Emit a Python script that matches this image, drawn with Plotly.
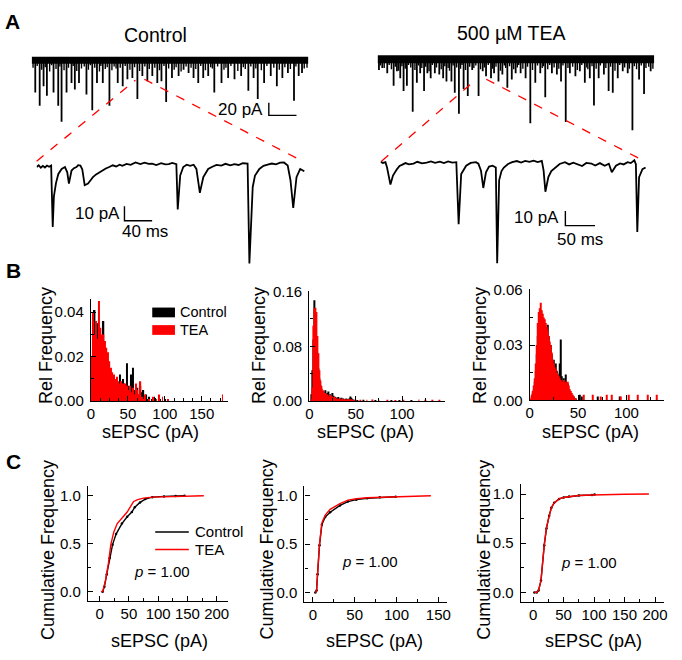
import plotly.graph_objects as go

W, H = 682, 660
FONT = "Liberation Sans, Arial, sans-serif"

# ---------------- Panel A data ----------------
# overview traces: event times (s) and amplitudes (pA)
ctl_t = [0.13,0.29,0.43,0.55,0.79,0.96,1.08,1.26,1.44,1.56,1.71,1.98,2.19,2.36,2.57,2.81,3.11,3.29,3.46,3.64,
         3.82,4.0,4.18,4.36,4.54,4.69,4.86,5.07,5.31,5.49,5.67,5.85,6.02,6.20,6.38,6.6,6.86,7.1,7.33,7.57,
         7.83,8.02,8.17,8.40,8.64,8.86,9.06,9.26,9.48,9.65,9.77]
ctl_a = [51,72,41,56,51,72,97,51,36,46,36,54,79,36,36,72,36,41,30,28,
         61,25,33,25,36,33,66,28,25,15,20,28,36,28,25,51,36,28,30,25,
         48,28,61,36,25,41,28,20,64,25,20]
ctl_small_t = [0.05,0.2,0.36,0.49,0.65,0.72,0.88,1.02,1.17,1.33,1.50,1.63,1.80,1.90,2.05,2.12,2.28,2.45,2.50,2.66,
               2.73,2.90,2.98,3.05,3.20,3.38,3.55,3.72,3.90,4.09,4.25,4.45,4.62,4.78,4.95,5.15,5.22,5.40,5.58,5.76,
               5.93,6.11,6.28,6.47,6.53,6.72,6.95,7.02,7.20,7.45,7.65,7.72,7.92,8.10,8.30,8.50,8.75,8.95,9.15,9.35,
               9.55,9.85,9.95]
ctl_small_a = [12,9,15,11,18,8,14,10,16,12,9,17,13,10,15,8,12,18,9,14,
               11,16,10,13,12,9,15,11,17,10,14,12,16,9,13,15,11,18,10,12,
               14,9,16,11,13,10,15,12,9,17,11,14,10,13,16,9,12,15,11,14,
               10,13,12]
tea_t = [0.05,0.17,0.35,0.58,0.70,0.82,0.94,1.06,1.27,1.42,1.54,1.68,1.80,1.92,2.07,2.23,2.37,2.49,2.67,2.79,
         2.94,3.11,3.26,3.42,3.65,3.80,3.92,4.10,4.21,4.37,4.51,4.69,4.85,4.99,5.17,5.35,5.52,5.70,5.88,6.06,
         6.30,6.48,6.63,6.80,6.95,7.15,7.31,7.49,7.67,7.82,7.99,8.18,8.35,8.50,8.68,8.86,9.04,9.21,9.45,9.63,9.87]
tea_a = [17,14,22,42,19,30,50,42,83,37,22,50,22,30,22,24,30,35,35,53,
         86,47,58,17,58,19,27,30,22,35,24,45,32,22,22,30,101,37,22,60,
         22,24,35,99,22,27,19,37,30,73,30,24,50,53,30,19,22,112,32,55,19]
tea_small_t = [0.1,0.24,0.42,0.5,0.64,0.76,0.88,1.0,1.12,1.2,1.35,1.48,1.6,1.74,1.86,1.98,2.13,2.3,2.43,2.55,
               2.6,2.73,2.86,3.0,3.05,3.18,3.33,3.48,3.55,3.72,3.86,4.0,4.16,4.28,4.44,4.58,4.63,4.77,4.92,5.05,
               5.1,5.25,5.42,5.6,5.78,5.95,6.0,6.15,6.22,6.38,6.55,6.7,6.88,7.05,7.22,7.38,7.56,7.6,7.75,7.9,
               8.05,8.25,8.42,8.58,8.75,8.93,9.1,9.28,9.36,9.53,9.7,9.8,9.95]
tea_small_a = [10,14,9,16,12,18,11,15,9,13,17,10,14,12,19,9,13,16,11,14,
               18,10,13,15,9,17,12,14,10,16,13,9,15,12,18,10,14,11,16,13,
               9,15,12,17,10,14,11,16,9,13,15,10,14,12,17,9,13,16,11,15,
               10,14,12,18,9,13,15,11,16,10,14,12,15]

# zoomed traces: (time ms, current pA)
ctl_zoom = [(0,0),(3,1.2),(6,-0.5),(9,0.8),(12,-0.3),(15,1.0),(18,0.2),(21,1.0),(23.3,-41),(25,-20),(28,-11),
            (31.4,-4.7),(36.2,-1.3),(41,0),(44.3,-3.6),(46.7,-11.3),(50.5,-2.4),(54,-0.8),(57.6,0),(60,1.3),
            (63.3,1),(66,-1.5),(69.5,-12.4),(74.3,-11.3),(78,-9),(81.4,-6.9),(86,-5),(91,-3.6),(95,-2),(100,-1),
            (105,0),(110,1.2),(115,0.4),(120,1.6),(124,0.8),(130,2.2),(136,1.5),(143,3.1),(150,2.0),(156,3.0),
            (162,2.2),(167,2.4),(173,1.4),(180,2.6),(186,1.8),(191,2.0),(196,2.8),(202,2.0),(204,-29),(207.6,-5.8),
            (212,0),(217,1.6),(222,0.8),(227,1.6),(231,-1.3),(236,-17.6),(241,-6.9),(248,-1.3),(254,0.2),(260,1.5),
            (267,1.0),(273,2.2),(280,1.2),(286,2.0),(292,1.4),(298,2.6),(305,2.4),(307.6,-65.8),(312.4,-13.6),
            (315.7,-5.8),(322,-1.3),(328,0.8),(334,1.6),(340,2.4),(346,1.8),(352,3.0),(357.6,3.1),(363,1.0),
            (367,-9),(371,-28),(375.7,-6.9),(381,-1.3),(387,-2.9)]
tea_zoom = [(0,0.4),(4,-0.5),(8.3,0),(11,-3.6),(16.7,-15.3),(21,-9.1),(27.8,-4.7),(32,-2.5),(36,-1.8),(42,-0.6),
            (48,-1.5),(55.6,-0.9),(62,0.3),(70,-0.8),(77.8,-0.2),(85,0.6),(92,-0.4),(100,0.4),(107,-0.6),(114,0.5),
            (121,-0.3),(127.8,0),(131.7,-42.4),(136,-8),(144.4,-2.4),(152,-0.5),(161,0),(165,-1),(169.4,-5.8),
            (173.3,-17.6),(177.8,-6.9),(183,-3),(189,-2.4),(194.4,-3.6),(196.7,-69),(200,-12.4),(204,-6),(208,-3.6),
            (215,-1.2),(222,0),(230,0.8),(237,-0.2),(244,0.9),(251,0.2),(258,1.0),(265,0.1),(272,0.9),(275,-5.8),
            (278,-20.2),(283,-10.2),(288,-6),(294.4,-3.6),(302,-1.2),(311,0),(318,-1.5),(325,-0.3),(333,-1.3),
            (340,-2.6),(347,-0.5),(355.6,-0.9),(362,-2.2),(370,-0.6),(378,-2.4),(385,-1.0),(390,-6.9),(397,-2.4),
            (404,-0.8),(410,-1.5),(416.7,0),(422,-0.6),(428,1.3),(430.6,-1.3),(433,-47.6),(436,-10.2),(441.7,-4.7),
            (447,-3.6)]

# scale bars
ov_bar_pA, ov_bar_s = 20, 1
ctl_zoom_bar_pA, ctl_zoom_bar_ms = 10, 40
tea_zoom_bar_pA, tea_zoom_bar_ms = 10, 50

# ---------------- Panel B data (relative frequency histograms) ----------------
b1_bin = 2.0
b1_ctl = [0.004,0.028,0.041,0.022,0.035,0.020,0.026,0.022,0.036,0.020,0.018,0.016,0.012,0.010,0.009,0.011,
          0.008,0.007,0.008,0.012,0.006,0.010,0.008,0.005,0.017,0.007,0.006,0.012,0.015,0.005,0.004,0.006,
          0.003,0.007,0.004,0.005,0.002,0.003,0.001,0.002]
b1_tea = [0.020,0.040,0.030,0.036,0.028,0.045,0.033,0.030,0.030,0.027,0.024,0.022,0.018,0.015,0.013,0.012,
          0.010,0.011,0.009,0.008,0.009,0.008,0.006,0.008,0.007,0.005,0.007,0.004,0.006,0.003,0.008,0.005,
          0.003,0.009,0.002,0.001,0.003,0.001,0.000,0.001]
b1_ctl_tail_x = [82, 86, 94, 101]
b1_ctl_tail_y = [0.001, 0.002, 0.001, 0.001]
b1_tea_tail_x = [84, 88, 92, 97, 104, 178]
b1_tea_tail_y = [0.002, 0.001, 0.003, 0.002, 0.001, 0.003]

b2_bin = 1.0
b2_ctl = [0,0,0.010,0.045,0.090,0.147,0.120,0.095,0.070,0.048,0.033,0.024,0.018,0.015,0.012,0.014,0.010,0.016,
          0.008,0.012,0.014,0.007,0.010,0.006,0.012,0.008,0.005,0.007,0.006,0.004,0.005,0.006,0.003,0.004,0.005,
          0.003,0.004,0.002,0.003,0.004,0.002,0.003,0.002,0.004,0.007,0.005,0.003,0.002,0.001,0.002]
b2_tea = [0,0,0.003,0.020,0.110,0.135,0.136,0.130,0.095,0.070,0.045,0.030,0.022,0.018,0.013,0.016,0.011,0.012,
          0.009,0.010,0.008,0.007,0.009,0.006,0.007,0.005,0.006,0.004,0.005,0.004,0.003,0.004,0.003,0.002,0.003,
          0.004,0.002,0.003,0.002,0.002,0.003,0.001,0.002,0.003,0.002,0.003,0.001,0.002,0.001,0.001]
b2_ctl_tail_x = [52, 58, 71, 88, 97, 110]
b2_ctl_tail_y = [0.0015, 0.002, 0.0015, 0.001, 0.0015, 0.001]
b2_tea_tail_x = [55, 62, 68, 75, 84, 93, 101, 118, 125, 133, 140]
b2_tea_tail_y = [0.002, 0.002, 0.0025, 0.002, 0.002, 0.0015, 0.002, 0.0025, 0.002, 0.002, 0.002]

b3_bin = 1.0
b3_ctl = [0,0,0.002,0.004,0.006,0.010,0.016,0.025,0.035,0.040,0.045,0.046,0.040,0.038,0.036,0.035,0.037,0.033,
          0.041,0.035,0.028,0.030,0.025,0.020,0.022,0.018,0.020,0.016,0.014,0.012,0.015,0.020,0.033,0.013,0.010,
          0.012,0.008,0.014,0.007,0.009,0.006,0.005,0.004,0.003,0.002,0.002,0.001,0.001]
b3_tea = [0,0.001,0.003,0.005,0.008,0.012,0.020,0.030,0.042,0.048,0.050,0.053,0.049,0.047,0.045,0.044,0.042,0.040,
          0.038,0.035,0.032,0.030,0.026,0.022,0.020,0.018,0.017,0.015,0.014,0.013,0.012,0.012,0.011,0.010,0.010,
          0.011,0.009,0.010,0.009,0.010,0.008,0.006,0.005,0.004,0.003,0.002,0.001,0.001]
b3_ctl_tail_x = [52, 54, 70, 93]
b3_ctl_tail_y = [0.003, 0.002, 0.002, 0.002]
b3_tea_tail_x = [56, 65, 73, 80, 85, 94, 102, 112, 122, 131]
b3_tea_tail_y = [0.003, 0.003, 0.002, 0.003, 0.003, 0.002, 0.003, 0.003, 0.003, 0.003]

# ---------------- Panel C data (cumulative frequency) ----------------
c1_ctl_x = [5, 8, 12, 17, 22, 28, 38, 47, 55, 60, 69, 78, 90, 110, 130, 145]
c1_ctl_y = [0, 0.05, 0.18, 0.35, 0.49, 0.60, 0.71, 0.78, 0.83, 0.88, 0.93, 0.965, 0.985, 0.993, 0.997, 1.0]
c1_tea_x = [2, 5, 10, 15, 19, 24, 30, 38, 47, 55, 58, 65, 75, 90, 110, 130, 150, 178]
c1_tea_y = [0, 0, 0.12, 0.30, 0.49, 0.62, 0.71, 0.77, 0.83, 0.91, 0.94, 0.96, 0.975, 0.985, 0.99, 0.995, 0.997, 1.0]
c2_ctl_x = [3, 4.5, 5.7, 8, 10.8, 14.8, 20.7, 32.5, 42, 52, 65, 80, 99]
c2_ctl_y = [0, 0.02, 0.19, 0.49, 0.70, 0.78, 0.83, 0.90, 0.94, 0.96, 0.975, 0.985, 0.99]
c2_tea_x = [3, 4.5, 5.7, 8, 10.8, 14.8, 20.7, 32.5, 42, 52, 65, 80, 99, 120, 141]
c2_tea_y = [0, 0.02, 0.20, 0.50, 0.72, 0.80, 0.86, 0.92, 0.955, 0.97, 0.98, 0.985, 0.99, 0.995, 1.0]
c3_ctl_x = [2.2, 6, 9, 13, 18.4, 22, 26.5, 30, 34.6, 42.7, 50, 59, 75, 96.7, 101]
c3_ctl_y = [0, 0, 0.02, 0.12, 0.48, 0.65, 0.78, 0.86, 0.91, 0.95, 0.965, 0.975, 0.985, 0.99, 0.995]
c3_tea_x = [2.2, 6, 9, 13, 18.4, 22, 26.5, 30, 34.6, 42.7, 50, 59, 75, 96.7, 120, 150, 190]
c3_tea_y = [0, 0, 0.02, 0.12, 0.49, 0.66, 0.78, 0.86, 0.91, 0.95, 0.965, 0.975, 0.985, 0.99, 0.995, 0.998, 1.0]
p_values = ["1.00", "1.00", "1.00"]

BLACK = "#000000"
RED = "#ff0000"

# ---------------- helpers ----------------
def fx(p):
    return p / W

def fy(p):
    return 1 - p / H

def xdom(a, b):
    return [fx(a), fx(b)]

def ydom(top, bottom):
    return [fy(bottom), fy(top)]

def spikes(ts, amps):
    xs, ys = [], []
    for t, a in zip(ts, amps):
        xs += [t, t, None]
        ys += [0, -a, None]
    return xs, ys

fig = go.Figure()
layout_axes = {}

def hidden_axes(n, xd, xr, yd, yr):
    sx = "" if n == 1 else str(n)
    layout_axes["xaxis" + sx] = dict(domain=xd, range=xr, visible=False, anchor="y" + sx)
    layout_axes["yaxis" + sx] = dict(domain=yd, range=yr, visible=False, anchor="x" + sx)

def sci_axes(n, xd, xr, xdt, xminor, yd, yr, ydt, yminor, yfmt):
    tf = dict(family=FONT, size=15, color="black")
    layout_axes["xaxis%d" % n] = dict(domain=xd, range=xr, anchor="y%d" % n, showline=True, linecolor="black",
                                     linewidth=1.3, ticks="inside", ticklen=5, tickwidth=1.2, tickcolor="black",
                                     tick0=0, dtick=xdt, showgrid=False, zeroline=False, tickfont=tf,
                                     ticklabelstandoff=-1,
                                     minor=dict(dtick=xminor, tick0=0, ticks="inside", ticklen=3, tickcolor="black", showgrid=False))
    layout_axes["yaxis%d" % n] = dict(domain=yd, range=yr, anchor="x%d" % n, showline=True, linecolor="black",
                                     linewidth=1.3, ticks="inside", ticklen=5, tickwidth=1.2, tickcolor="black",
                                     tick0=0, dtick=ydt, showgrid=False, zeroline=False, tickfont=tf,
                                     tickformat=yfmt, ticklabelstandoff=3,
                                     minor=dict(dtick=yminor, tick0=0, ticks="inside", ticklen=3, tickcolor="black", showgrid=False))

# ---------------- Panel A ----------------
hidden_axes(1, xdom(28, 308), [0, 10], ydom(47, 125), [-110, 10])
hidden_axes(2, xdom(378, 658), [0, 10], ydom(46, 130.5), [-120, 10])
hidden_axes(3, xdom(33, 305), [0, 388.6], ydom(151, 271), [-72, 8])
hidden_axes(4, xdom(381, 650), [0, 448.3], ydom(148, 271), [-75.3, 6.7])

for n, (tt, aa, st, sa, band) in zip([1, 2], [(ctl_t, ctl_a, ctl_small_t, ctl_small_a, 7),
                                           (tea_t, tea_a, tea_small_t, tea_small_a, 8)]):
    xa = "x" if n == 1 else "x%d" % n
    ya = "y" if n == 1 else "y%d" % n
    fig.add_trace(go.Scatter(x=[0, 10], y=[0, 0], mode="lines", line=dict(color=BLACK, width=band),
                             xaxis=xa, yaxis=ya, showlegend=False, hoverinfo="skip"))
    sx, sy = spikes(st, sa)
    fig.add_trace(go.Scatter(x=sx, y=sy, mode="lines", line=dict(color=BLACK, width=1.4),
                             xaxis=xa, yaxis=ya, showlegend=False, hoverinfo="skip"))
    sx, sy = spikes(tt, aa)
    fig.add_trace(go.Scatter(x=sx, y=sy, mode="lines", line=dict(color=BLACK, width=1.8),
                             xaxis=xa, yaxis=ya, showlegend=False, hoverinfo="skip"))

for n, data in zip([3, 4], [ctl_zoom, tea_zoom]):
    fig.add_trace(go.Scatter(x=[d[0] for d in data], y=[d[1] for d in data], mode="lines",
                             line=dict(color=BLACK, width=1.8), xaxis="x%d" % n, yaxis="y%d" % n,
                             showlegend=False, hoverinfo="skip"))

# scale bars
def scalebar(xa, ya, x0, y0, dx, dy):
    fig.add_trace(go.Scatter(x=[x0, x0, x0 + dx], y=[y0 + dy, y0, y0], mode="lines",
                             line=dict(color=BLACK, width=1.4), xaxis=xa, yaxis=ya,
                             showlegend=False, hoverinfo="skip"))

scalebar("x", "y", 8.57, -87, ov_bar_s, ov_bar_pA)
scalebar("x3", "y3", 127, -36.7, ctl_zoom_bar_ms, ctl_zoom_bar_pA)
scalebar("x4", "y4", 311.7, -43.3, tea_zoom_bar_ms, tea_zoom_bar_pA)

annotations = []
def txt(text, x, y, size, xref="paper", yref="paper", xanchor="center", yanchor="middle", bold=False, textangle=0):
    annotations.append(dict(text=("<b>%s</b>" % text) if bold else text, x=x, y=y, xref=xref, yref=yref,
                            xanchor=xanchor, yanchor=yanchor, showarrow=False, textangle=textangle,
                            font=dict(family=FONT, size=size, color="black")))

txt("A", fx(9), fy(14), 21, bold=True)
txt("B", fx(10), fy(269), 21, bold=True)
txt("C", fx(10), fy(465), 21, bold=True)
txt("Control", fx(153), fy(28), 19.5)
txt("500 µM TEA", fx(513), fy(26), 19.5)
txt("%d pA" % ov_bar_pA, 8.45, -77, 17, xref="x", yref="y", xanchor="right")
txt("%d s" % ov_bar_s, 9.07, -113, 17, xref="x", yref="y")
txt("%d pA" % ctl_zoom_bar_pA, 123, -31.7, 17, xref="x3", yref="y3", xanchor="right")
txt("%d ms" % ctl_zoom_bar_ms, 157, -44, 17, xref="x3", yref="y3")
txt("%d pA" % tea_zoom_bar_pA, 305, -38, 17, xref="x4", yref="y4", xanchor="right")
txt("%d ms" % tea_zoom_bar_ms, 337, -52.7, 17, xref="x4", yref="y4")

shapes = []
for (x0, y0, x1, y1) in [(33, 157, 133, 74), (142, 73, 302, 157), (382, 157, 478, 73), (488, 73, 648, 157)]:
    shapes.append(dict(type="line", xref="paper", yref="paper", x0=fx(x0), y0=fy(y0), x1=fx(x1), y1=fy(y1),
                       line=dict(color=RED, width=1.3, dash="dash")))

# ---------------- Panel B ----------------
sci_axes(5, xdom(88, 227), [0, 186], 50, 12.5, ydom(298, 403), [0, 0.046], 0.02, 0.01, ".2f")
sci_axes(6, xdom(309, 446), [0, 146], 50, 25, ydom(290, 403), [0, 0.1605], 0.08, 0.04, ".2f")
sci_axes(7, xdom(532, 668), [0, 139], 50, 25, ydom(288, 402), [0, 0.0605], 0.03, 0.015, ".2f")

def hist(n, bw, ctl, tea, ctx, cty, ttx, tty):
    for vals, tx, ty, col in [(ctl, ctx, cty, BLACK), (tea, ttx, tty, RED)]:
        centers = [bw * (i + 0.5) for i in range(len(vals))]
        fig.add_trace(go.Bar(x=centers, y=vals, width=bw, marker=dict(color=col, line=dict(width=0)),
                             xaxis="x%d" % n, yaxis="y%d" % n, showlegend=False, hoverinfo="skip"))
        fig.add_trace(go.Bar(x=tx, y=ty, width=0.9, marker=dict(color=col, line=dict(width=0)),
                             xaxis="x%d" % n, yaxis="y%d" % n, showlegend=False, hoverinfo="skip"))

hist(5, b1_bin, b1_ctl, b1_tea, b1_ctl_tail_x, b1_ctl_tail_y, b1_tea_tail_x, b1_tea_tail_y)
hist(6, b2_bin, b2_ctl, b2_tea, b2_ctl_tail_x, b2_ctl_tail_y, b2_tea_tail_x, b2_tea_tail_y)
hist(7, b3_bin, b3_ctl, b3_tea, b3_ctl_tail_x, b3_ctl_tail_y, b3_tea_tail_x, b3_tea_tail_y)

for xc in [42, 257.5, 481]:
    txt("Rel Frequency", fx(xc), fy(346), 18, textangle=-90)
for xc in [148, 366, 593]:
    txt("sEPSC (pA)", fx(xc), fy(435), 18)

# B1 legend (boxes)
for yc, col, lab in [(312, BLACK, "Control"), (330, RED, "TEA")]:
    shapes.append(dict(type="rect", xref="paper", yref="paper", x0=fx(150), x1=fx(173), y0=fy(yc + 5), y1=fy(yc - 5),
                       fillcolor=col, line=dict(width=0)))
    txt(lab, fx(176), fy(yc), 14.5, xanchor="left")

# ---------------- Panel C ----------------
sci_axes(8, xdom(85, 227), [-20, 220], 50, 25, ydom(490, 608), [-0.1, 1.1], 0.5, 0.25, ".1f")
sci_axes(9, xdom(304, 448), [-10, 160], 50, 25, ydom(490, 609), [-0.1, 1.1], 0.5, 0.25, ".1f")
sci_axes(10, xdom(523, 668), [-20, 215], 50, 25, ydom(488, 609), [-0.1, 1.1], 0.5, 0.25, ".1f")

for n, cx, cy, tx, ty in [(8, c1_ctl_x, c1_ctl_y, c1_tea_x, c1_tea_y),
                          (9, c2_ctl_x, c2_ctl_y, c2_tea_x, c2_tea_y),
                          (10, c3_ctl_x, c3_ctl_y, c3_tea_x, c3_tea_y)]:
    fig.add_trace(go.Scatter(x=cx, y=cy, mode="lines+markers", line=dict(color=BLACK, width=1.4),
                             marker=dict(size=2.5, color=BLACK), xaxis="x%d" % n, yaxis="y%d" % n,
                             showlegend=False, hoverinfo="skip"))
    fig.add_trace(go.Scatter(x=tx, y=ty, mode="lines", line=dict(color=RED, width=1.4),
                             xaxis="x%d" % n, yaxis="y%d" % n, showlegend=False, hoverinfo="skip"))

for xc in [44, 266, 485]:
    txt("Cumulative Frequency", fx(xc), fy(555), 18, textangle=-90)
for xc in [157, 375, 596]:
    txt("sEPSC (pA)", fx(xc), fy(649), 18)
for (xc, yc), pv in zip([(160, 578), (370, 567), (592, 568)], p_values):
    txt("<i>p</i> = %s" % pv, fx(xc), fy(yc), 15)

# C1 legend (lines)
for yc, col, lab in [(537, BLACK, "Control"), (555, RED, "TEA")]:
    shapes.append(dict(type="line", xref="paper", yref="paper", x0=fx(153), x1=fx(187), y0=fy(yc), y1=fy(yc),
                       line=dict(color=col, width=1.4)))
    txt(lab, fx(191), fy(yc), 15, xanchor="left")

fig.update_layout(width=W, height=H, margin=dict(l=0, r=0, t=0, b=0), paper_bgcolor="white",
                  plot_bgcolor="rgba(0,0,0,0)", barmode="overlay", showlegend=False,
                  annotations=annotations, shapes=shapes, font=dict(family=FONT, color="black"),
                  **layout_axes)

fig.write_html("out.html", config={"displayModeBar": False},
               post_script="document.body.style.margin='0';document.body.style.padding='0';"
                           "document.body.style.overflow='hidden';")
